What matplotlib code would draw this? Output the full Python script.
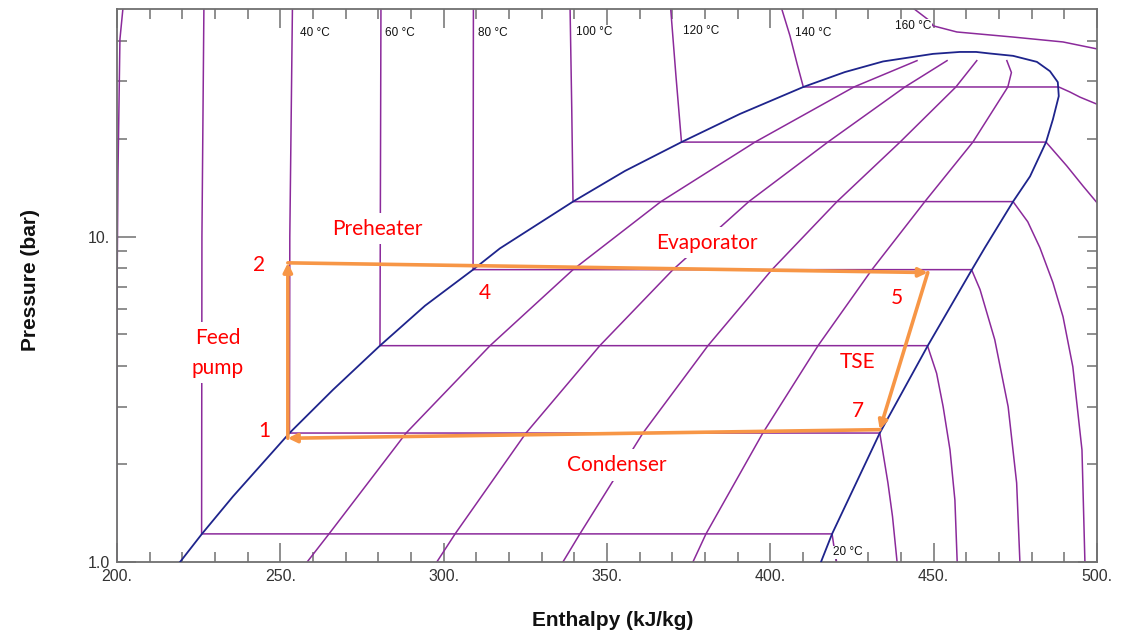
import matplotlib
matplotlib.use("Agg")
import matplotlib.pyplot as plt
from matplotlib.ticker import MultipleLocator, FixedLocator, FuncFormatter, NullFormatter

# ---------------- data: R245fa pressure-enthalpy chart ----------------
# saturation dome (h in kJ/kg, p in bar)
sat_liq_h = [219.3, 226.0, 235.5, 252.8, 266.1, 280.5, 294.3, 309.0, 317.2,
             339.6, 355.5, 372.8, 390.7, 410.1, 422.8, 434.5, 449.8, 458.0]
sat_liq_p = [1.00, 1.22, 1.59, 2.49, 3.38, 4.62, 6.13, 7.91, 9.19,
             12.8, 15.9, 19.5, 23.8, 28.8, 32.0, 34.5, 36.4, 36.9]
sat_vap_h = [458.0, 463.0, 467.2, 474.3, 481.6, 485.6, 488.0, 488.3, 486.5,
             484.4, 479.5, 474.3, 465.7, 461.7, 448.2, 433.5, 418.9, 415.5]
sat_vap_p = [36.9, 36.9, 36.5, 35.9, 34.4, 32.2, 29.8, 27.0, 22.9,
             19.5, 15.3, 12.8, 9.25, 7.91, 4.62, 2.49, 1.22, 1.00]

# isotherms
iso_0_h = [201.8, 200.9, 200.3, 200.0, 199.8]
iso_0_p = [50.0, 40.4, 15.7, 6.4, 1.0]
iso_20_h = [226.6, 226.0, 225.9, 418.9, 419.8, 420.3]
iso_20_p = [50.0, 10.0, 1.22, 1.22, 1.06, 1.0]
iso_40_h = [253.7, 252.9, 252.8, 433.5, 436.0, 437.4, 438.8]
iso_40_p = [50.0, 10.0, 2.49, 2.49, 1.75, 1.38, 1.0]
iso_60_h = [280.8, 280.5, 448.1, 450.9, 452.9, 455.0, 456.5, 457.2]
iso_60_p = [50.0, 4.62, 4.62, 3.80, 3.00, 2.21, 1.55, 1.0]
iso_80_h = [309.1, 309.0, 461.6, 464.2, 468.7, 472.8, 475.4, 476.4]
iso_80_p = [50.0, 7.91, 7.91, 6.87, 4.82, 3.00, 1.75, 1.0]
iso_100_h = [338.7, 339.2, 339.6, 474.3, 478.8, 482.5, 486.5, 489.6, 492.6, 495.4, 496.3]
iso_100_p = [50.0, 25.0, 12.8, 12.8, 11.1, 9.25, 7.22, 5.67, 3.98, 2.21, 1.0]
iso_120_h = [369.5, 371.1, 372.8, 484.4, 490.7, 495.7, 500.0]
iso_120_p = [50.0, 31.2, 19.5, 19.5, 16.5, 14.3, 12.7]
iso_140_h = [403.5, 406.0, 408.2, 410.1, 488.3, 491.7, 494.8, 500.0]
iso_140_p = [50.0, 41.4, 33.9, 28.8, 28.8, 27.8, 26.8, 25.5]
iso_160_h = [443.6, 448.9, 449.8, 457.1, 474.3, 489.6, 500.0]
iso_160_p = [50.4, 45.9, 44.4, 42.5, 41.0, 39.6, 37.7]

# lines of constant vapour quality (x = 0.2, 0.4, 0.6, 0.8)
q_levels_p = [1.0, 1.22, 2.49, 4.62, 7.91, 12.8, 19.5, 28.8, 34.7]
q02_h = [258.2, 264.9, 288.5, 314.2, 339.6, 366.5, 395.3, 425.6, 444.9]
q04_h = [297.9, 303.5, 325.2, 347.8, 370.2, 393.4, 417.6, 441.2, 454.1]
q06_h = [336.5, 341.7, 361.0, 380.9, 400.5, 420.4, 439.7, 456.8, 463.2]
q08_h = [376.3, 380.3, 397.7, 414.6, 431.1, 447.3, 462.0, 472.7, 473.8, 472.4]
q08_p = [1.0, 1.22, 2.49, 4.62, 7.91, 12.8, 19.5, 28.8, 31.9, 34.7]

# ORC cycle state points 1 -> 2 -> 5 -> 7 -> 1
cycle_names = ["1", "2", "5", "7"]
cycle_h = [252.3, 252.3, 448.2, 433.5]
cycle_p = [2.40, 8.30, 7.75, 2.55]

x_ticks = [200, 250, 300, 350, 400, 450, 500]
y_major = [1.0, 10.0]
y_minor = [2, 3, 4, 5, 6, 7, 8, 9, 20, 30, 40]
y_labels = {1.0: "1.0", 10.0: "10."}

# ---------------- styling ----------------
PURPLE = "#8B2A9B"
NAVY = "#1E248C"
ORANGE = "#F79646"
RED = "#FF0000"
FRAME = "#707070"

fig = plt.figure(figsize=(11.23, 6.39), dpi=100)
ax = fig.add_axes([117 / 1123, 77 / 639, 980 / 1123, 553 / 639])
ax.set_yscale("log")
ax.set_xlim(200, 500)
ax.set_ylim(1.0, 50.0)

lw_iso = 1.1
for h, p in [(iso_0_h, iso_0_p), (iso_20_h, iso_20_p), (iso_40_h, iso_40_p),
             (iso_60_h, iso_60_p), (iso_80_h, iso_80_p), (iso_100_h, iso_100_p),
             (iso_120_h, iso_120_p), (iso_140_h, iso_140_p), (iso_160_h, iso_160_p)]:
    ax.plot(h, p, color=PURPLE, lw=lw_iso, zorder=2)

for h, p in [(q02_h, q_levels_p), (q04_h, q_levels_p), (q06_h, q_levels_p), (q08_h, q08_p)]:
    ax.plot(h, p, color=PURPLE, lw=lw_iso, zorder=2)

ax.plot(sat_liq_h + sat_vap_h[1:], sat_liq_p + sat_vap_p[1:], color=NAVY, lw=1.3, zorder=3)

# temperature labels
tfont = dict(fontsize=8.5, family="Liberation Sans", color="#111111", va="center", ha="left",
             zorder=4)
bb = dict(facecolor="white", edgecolor="none", pad=0.5)
for txt, h, p in [("40 °C", 256.0, 42.2), ("60 °C", 282.0, 42.2), ("80 °C", 310.5, 42.2),
                  ("100 °C", 340.5, 42.5), ("120 °C", 373.2, 42.8), ("140 °C", 407.5, 42.2),
                  ("160 °C", 438.1, 44.3), ("20 °C", 419.2, 1.071)]:
    ax.text(h, p, txt, bbox=bb, **tfont)

# process labels (white backing where they sit on top of chart lines)
lfont = dict(fontsize=15, family="Lato", color=RED, ha="center", va="center", zorder=5)
lbb = dict(facecolor="white", edgecolor="none", pad=4)
for txt, h, p in [("Preheater", 279.6, 10.58), ("Evaporator", 380.6, 9.58),
                  ("Feed", 230.9, 4.89), ("pump", 230.9, 3.95),
                  ("Condenser", 353.0, 1.985)]:
    ax.text(h, p, txt, bbox=lbb, **lfont)
for txt, h, p in [("TSE", 426.8, 4.12), ("2", 243.5, 8.20), ("4", 312.6, 6.72),
                  ("5", 438.8, 6.49), ("7", 426.8, 2.91), ("1", 245.0, 2.53)]:
    ax.text(h, p, txt, **lfont)

# cycle path with arrowheads at the end of each step
n = len(cycle_h)
for i in range(n):
    j = (i + 1) % n
    ax.annotate("", xy=(cycle_h[j], cycle_p[j]), xytext=(cycle_h[i], cycle_p[i]),
                arrowprops=dict(arrowstyle="-|>", color=ORANGE, lw=2.6,
                                mutation_scale=13, shrinkA=0, shrinkB=0),
                zorder=6)

# axes, ticks
ax.xaxis.set_major_locator(FixedLocator(x_ticks))
ax.xaxis.set_minor_locator(MultipleLocator(10))
ax.xaxis.set_major_formatter(FuncFormatter(lambda v, _: f"{v:.0f}."))
ax.yaxis.set_major_locator(FixedLocator(y_major))
ax.yaxis.set_minor_locator(FixedLocator(y_minor))
ax.yaxis.set_major_formatter(FuncFormatter(lambda v, _: y_labels.get(v, "")))
ax.yaxis.set_minor_formatter(NullFormatter())

ax.tick_params(which="both", direction="in", top=True, right=True, color=FRAME, width=1.1,
               labelsize=11.5, labelcolor="#333333")
ax.tick_params(which="major", length=14, pad=5)
ax.tick_params(which="minor", length=7)
for lab in ax.get_xticklabels() + ax.get_yticklabels():
    lab.set_family("Liberation Sans")
for s in ax.spines.values():
    s.set_color(FRAME)
    s.set_linewidth(1.3)

ax.set_xlabel("Enthalpy (kJ/kg)", fontsize=15, fontweight="bold", family="Liberation Sans",
              color="#111111")
ax.set_ylabel("Pressure (bar)", fontsize=15, fontweight="bold", family="Liberation Sans",
              color="#111111")
ax.xaxis.set_label_coords((613 - 117) / 980, -(620 - 562) / 553)
ax.xaxis.label.set_verticalalignment("center")
ax.yaxis.set_label_coords((30 - 117) / 980, (562 - 280) / 553)
ax.yaxis.label.set_verticalalignment("center")

fig.savefig("out.png", dpi=100, facecolor="white")
